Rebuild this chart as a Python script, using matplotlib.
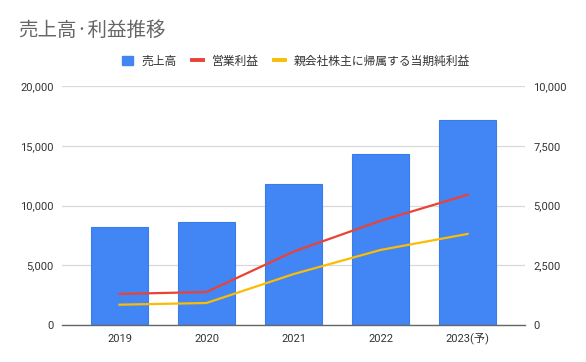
import matplotlib
matplotlib.use("Agg")
import matplotlib.pyplot as plt
from matplotlib.patches import Patch
from matplotlib.lines import Line2D
from matplotlib.ticker import FuncFormatter

plt.rcParams['font.family'] = ['Noto Sans CJK JP', 'DejaVu Sans']

categories = ["2019", "2020", "2021", "2022", "2023(予)"]
sales = [8220, 8650, 11770, 14310, 17150]
operating_profit = [1300, 1380, 3070, 4360, 5450]
net_profit = [850, 920, 2130, 3140, 3810]

left_ticks = [0, 5000, 10000, 15000, 20000]
right_ticks = [0, 2500, 5000, 7500, 10000]

blue = "#4285F4"
red = "#EA4335"
yellow = "#FBBC04"
tick_family = ['Roboto', 'Noto Sans CJK JP']

fig = plt.figure(figsize=(5.86, 3.62), dpi=100)
ax = fig.add_axes([62/586, 1-325/362, 463/586, 239/362])
ax2 = ax.twinx()

x = list(range(len(categories)))
ax.bar(x, sales, width=0.645, color=blue, edgecolor="#3b7de8", linewidth=0.8, zorder=2)
ax2.plot(x, operating_profit, color=red, linewidth=1.6, zorder=3)
ax2.plot(x, net_profit, color=yellow, linewidth=1.6, zorder=3)

ax.set_xlim(-0.66, 4.66)
ax.set_ylim(0, 20000)
ax2.set_ylim(0, 10000)
ax.set_yticks(left_ticks)
ax2.set_yticks(right_ticks)
fmt = FuncFormatter(lambda v, p: f"{int(v):,}")
ax.yaxis.set_major_formatter(fmt)
ax2.yaxis.set_major_formatter(fmt)
ax.set_xticks(x)
ax.set_xticklabels(categories)

ax.grid(axis='y', color="#d9d9d9", linewidth=0.9, zorder=0)
ax.set_axisbelow(True)
for a in (ax, ax2):
    for s in a.spines.values():
        s.set_visible(False)
    a.tick_params(length=0, labelsize=8, colors="#333333", pad=6)
    for lab in a.get_xticklabels() + a.get_yticklabels():
        lab.set_family(tick_family)
ax.spines['bottom'].set_visible(True)
ax.spines['bottom'].set_color("#666666")
ax.spines['bottom'].set_linewidth(1.0)
ax.tick_params(axis='x', pad=12)
for lab in ax.get_xticklabels():
    lab.set_verticalalignment('baseline')

fig.text(18/586, 1-30/362, "売上高·利益推移", fontsize=14, color="#666666",
         va='center', ha='left')

handles = [Patch(facecolor=blue, edgecolor=blue),
           Line2D([0], [0], color=red, linewidth=2.8),
           Line2D([0], [0], color=yellow, linewidth=2.8)]
labels = ["売上高", "営業利益", "親会社株主に帰属する当期純利益"]
fig.legend(handles, labels, loc='center', bbox_to_anchor=(296/586, 1-61/362),
           ncol=3, frameon=False, fontsize=8.5, handlelength=0.9, handleheight=0.9,
           handletextpad=0.75, columnspacing=1.3, labelcolor="#333333")

fig.savefig("out.png", dpi=100)
